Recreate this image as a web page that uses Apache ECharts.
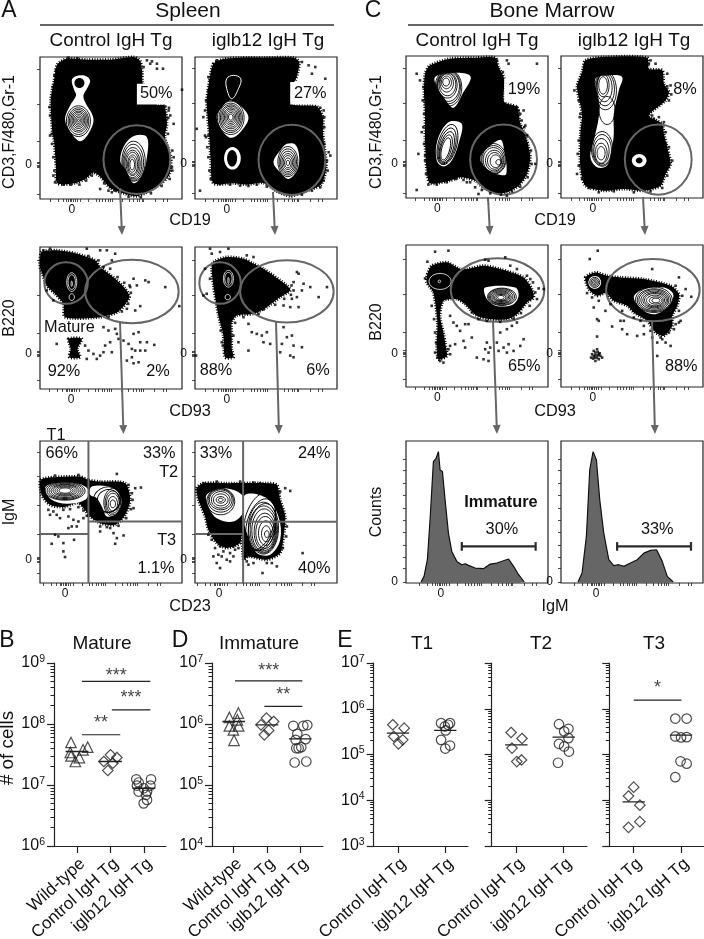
<!DOCTYPE html>
<html>
<head>
<meta charset="utf-8">
<title>Spleen and bone marrow B cell gating</title>
<style>
  html, body { margin: 0; padding: 0; background: #fff; }
  #main { width: 704px; height: 939px; }
</style>
<script src="https://cdn.jsdelivr.net/npm/echarts@6/dist/echarts.min.js"></script>
</head>
<body>
<div id="main"></div>
<script>
// flow plots below use arbitrary channel units (the axes have no scale except the 0 tick)
// each plot: outline polygons, white regions, contour ellipses [cx, cy, rx, ry, tilt], events, gates

// --- A, spleen, CD19 vs CD3
const p1Blob = [[[172,192],[200,175],[260,178],[330,178],[400,170],[420,182],[426,215],[428,250],[470,312],[492,315],[500,370],[494,410],[512,470],[508,520],[484,548],[445,572],[410,587],[370,578],[330,562],[300,528],[280,516],[260,532],[225,548],[172,548],[168,500],[162,420],[157,395],[152,300],[162,240]]]
const p1Holes = [[[215,240],[225,228],[255,226],[270,240],[262,262],[250,285],[255,305],[280,355],[265,400],[240,422],[215,400],[195,358],[210,315],[228,285],[222,268]],
  [[375,430],[405,405],[440,410],[440,470],[425,525],[400,548],[378,510],[360,480]]]
const p1Box = [[[410,250],[518,250],[518,312],[410,312]]]
const p1Spots = [[238,248,15,15]]
const p1Rings = [[235,362,36,46],[235,362,31,40],[235,361,27,34],[235,361,23,29],[235,360,19,24],[235,360,15,19],[235,360,11,14],[235,360,7,9],[235,360,3,4],
  [400,482,35,60],[399,485,31,54],[398,488,27,47],[397,490,23,41],[397,490,19,35],[397,492,15,29],[396,492,11,23],[396,492,7,16]]
const p1Dots = [[455,183],[470,190],[488,205],[545,268],[150,405],[155,400],[178,520],[172,535],[505,330],[510,345],[495,318],[520,370],[520,470],[515,500],[325,570],[300,565],[335,575],[440,180],[430,200],[470,205],[205,172],[232,174],[450,190],
  [148,320],[150,345],[158,260],[163,225],[168,208],[156,430],[160,470],[163,510],[190,552],[212,552],[238,552],[258,540],[275,525],[312,548],[345,570],[385,588],[422,590],[452,578],[484,556],[508,535],[516,510],[516,450],[503,400],[504,352],[506,322],[160,525],[165,545]]
const p1Gates = [[410,477,100,103]]
const p1Text = [[468,280,'50%']]

const p2Blob = [[[640,190],[670,176],[720,172],[790,172],[880,172],[897,185],[892,220],[885,240],[875,250],[875,310],[950,318],[968,350],[968,400],[974,450],[978,500],[962,552],[900,577],[870,587],[830,572],[790,547],[740,552],[700,548],[640,548],[632,480],[628,410],[622,340],[620,300],[628,240]]]
const p2Holes = [[[690,300],[720,315],[745,350],[725,390],[695,412],[670,395],[650,350],[668,318]],
  [[860,430],[885,432],[897,470],[890,510],[865,535],[840,515],[820,485],[840,450]]]
const p2Box = [[[870,245],[985,245],[985,312],[870,312]]]
const p2Whites = [[697,473,25,34]]
const p2Spots = [[696,473,15,25]]
const p2WhiteLines = [[[680,235],[700,225],[722,235],[715,265],[695,295],[680,265]]]
const p2Rings = [[692,352,40,50],[692,352,35,44],[692,352,31,39],[692,351,27,34],[692,351,23,29],[692,350,19,24],[692,350,15,19],[692,350,11,14],[692,350,7,9],
  [863,483,30,45],[863,484,26,39],[863,485,22,33],[863,486,18,27],[863,486,14,21],[863,487,10,15],[863,487,5,8]]
const p2Dots = [[625,230],[630,240],[610,350],[590,385],[615,405],[630,400],[600,570],[650,185],[905,185],[925,195],[935,220],[975,235],[945,200],[945,320],[970,330],[985,455],[990,465],[960,560],[830,552],[815,548],[625,405],[618,410],
  [615,330],[618,300],[625,270],[622,440],[625,470],[628,510],[632,535],[650,180],[660,550],[690,552],[720,555],[745,556],[770,552],[800,558],[905,582],[935,570],[970,540],[982,510],[980,480],[972,430],[972,380],[972,350],[960,322]]
const p2Gates = [[875,478,100,105]]
const p2Text = [[930,280,'27%']]

// --- C, bone marrow, CD19 vs CD3
const p3Blob = [[[240,195],[300,175],[380,172],[435,172],[445,200],[462,235],[462,305],[500,320],[510,370],[520,390],[530,420],[540,470],[530,520],[505,555],[470,575],[440,578],[400,562],[375,540],[330,530],[300,540],[240,548],[230,510],[225,420],[225,340],[222,280],[225,220]]]
const p3Holes = [[[255,230],[300,218],[355,222],[362,235],[340,275],[310,322],[280,290],[258,255]],
  [[295,365],[335,370],[325,430],[305,480],[280,498],[260,480],[262,420]],
  [[395,460],[450,418],[462,450],[468,520],[445,522],[410,505],[390,480]]]
const p3Box = [[[462,235],[575,235],[575,305],[462,305]]]
const p3Rings = [[295,262,40,55],[295,260,36,50],[295,258,33,45],[292,254,29,39],[292,252,25,34],[290,248,20,27],[289,246,15,19],[288,245,10,12],
  [292,432,28,62,15],[291,436,24,55,15],[290,440,20,48,15],[288,443,16,41,15],[287,445,12,34,15],
  [430,475,38,46],[430,477,35,42],[430,478,31,37],[432,480,26,31],[433,481,21,25],[436,482,16,19],[445,485,8,8]]
const p3Dots = [[560,190],[200,220],[210,240],[220,260],[470,180],[440,180],[500,320],[520,330],[525,375],[522,380],[555,490],[525,498],[200,568],[385,580],[470,585],[360,545],[205,460],[225,465],[215,395],[530,430],[480,320],[510,340],[350,545],[375,560],
  [218,300],[222,340],[220,380],[222,430],[225,480],[228,520],[235,552],[260,552],[290,545],[318,535],[340,538],[395,568],[420,578],[452,582],[485,572],[510,558],[532,530],[544,490],[542,450],[530,405],[514,360],[505,330],[475,190],[458,215]]
const p3Gates = [[460,477,100,105]]
const p3Text = [[521,268,'19%']]

const p4Blob = [[[705,180],[760,170],[890,172],[895,205],[935,210],[940,250],[955,275],[945,300],[895,345],[935,370],[940,400],[950,440],[960,490],[945,520],[930,555],[880,570],[820,565],[760,570],[705,555],[690,500],[690,400],[695,340],[680,260],[695,215]]]
const p4Holes = [[[735,235],[775,225],[815,230],[805,270],[790,340],[790,400],[785,440],[770,495],[740,500],[720,470],[730,420],[745,350],[745,300]]]
const p4Box = [[[962,240],[1045,240],[1045,300],[962,300]]]
const p4Whites = [[866,480,22,20]]
const p4Spots = [[866,480,10,9]]
const p4Rings = [[765,270,33,58],[764,266,28,50],[762,262,23,42],[758,255,18,34],[758,255,13,26],[770,330,24,42],[755,445,32,52],[755,448,28,46],[753,452,23,38],[752,458,18,30],[752,458,12,20]]
const p4Dots = [[905,345],[910,355],[925,350],[940,365],[945,430],[955,492],[895,190],[915,190],[925,210],[950,220],[690,340],[680,520],[705,230],[960,255],[950,258],[925,225],
  [672,270],[685,300],[688,350],[685,420],[682,460],[685,495],[695,535],[715,562],[745,575],[790,572],[850,575],[900,572],[935,562],[950,525],[965,480],[955,440],[945,395],[955,300],[962,282],[900,180]]
const p4Gates = [[923,477,100,105]]
const p4Text = [[1003,268,'8%']]

// --- A, spleen, CD93 vs B220
const p5Blob = [[[120,75],[125,50],[170,45],[230,55],[285,75],[300,95],[345,130],[375,160],[388,185],[355,228],[300,245],[195,245],[190,205],[165,175],[140,150],[125,110],[120,95]],
  [[205,310],[245,310],[232,340],[240,365],[208,365],[212,340]]]
const p5WhiteRings = [[215,140,15,28],[215,140,11,22],[215,185,8,10],[215,145,2,8]]
const p5Dots = [[130,45],[150,40],[260,40],[300,45],[320,45],[345,55],[335,75],[330,100],[400,130],[435,135],[445,140],[410,150],[390,155],[495,155],[537,212],[420,212],[380,220],[405,225],[310,275],[325,285],[345,280],[350,295],[355,310],[400,295],[415,290],[420,320],[370,315],[385,325],[395,340],[405,345],[420,345],[435,345],[462,328],[440,320],[395,365],[380,375],[400,383],[415,380],[255,330],[265,345],[280,355],[260,370],[290,370],[300,360],[315,330],[330,320],[335,350],[310,350],[170,325],[110,365],[140,165],[150,150],[160,195],[115,360],
  [392,172],[384,205],[365,228],[325,245],[388,150],[372,142],[352,125],[310,95],[295,75],[265,62]]
const p5Gates = [[198,143,65,62],[395,168,140,95]]
const p5Text = [[208,275,'Mature'],[192,407,'92%'],[473,407,'2%']]

const p6Blob = [[[640,80],[680,65],[730,70],[760,85],[790,100],[860,150],[870,165],[840,185],[800,215],[760,235],[710,240],[695,260],[695,300],[695,340],[700,365],[675,365],[670,300],[655,240],[640,150],[635,100]]]
const p6WhiteRings = [[685,130,15,25],[685,130,11,19],[683,185,8,8],[685,135,2,9]]
const p6Dots = [[630,40],[635,55],[660,50],[685,40],[740,60],[760,65],[615,100],[630,130],[620,175],[610,180],[890,110],[895,115],[880,140],[910,145],[930,155],[980,155],[955,185],[905,165],[890,185],[875,190],[870,215],[895,215],[850,210],[745,265],[755,290],[770,295],[785,300],[800,290],[790,320],[810,325],[850,275],[860,305],[875,300],[845,325],[880,330],[905,335],[840,350],[870,360],[880,365],[745,345],[715,320],[700,300],[665,320],[588,360],
  [874,150],[880,165],[872,178],[852,190],[825,208],[775,235],[790,222],[730,245],[705,262],[662,285],[668,330]]
const p6Gates = [[660,143,62,62],[860,168,140,93]]
const p6Text = [[648,405,'88%'],[953,405,'6%']]

// --- C, bone marrow, CD93 vs B220
const p7Blob = [[[232,115],[245,90],[290,80],[330,100],[350,100],[400,90],[450,100],[520,125],[545,160],[550,185],[530,200],[500,235],[470,250],[420,250],[380,240],[345,205],[320,190],[280,195],[270,240],[280,290],[285,320],[290,360],[265,370],[260,330],[262,260],[250,170],[230,140]]]
const p7Holes = [[[405,155],[495,155],[505,180],[490,205],[445,212],[420,200],[405,180]]]
const p7WhiteRings = [[268,137,4,4],[270,137,33,24]]
const p7Rings = [[455,183,43,26],[454,183,39,24],[453,183,35,21],[452,184,31,19],[452,184,27,16],[452,184,23,13],[452,185,19,11],[452,185,15,9],[452,185,10,6]]
const p7Dots = [[255,48],[295,45],[232,78],[225,128],[405,72],[415,75],[465,65],[480,90],[500,100],[540,130],[565,158],[580,160],[300,240],[310,260],[320,270],[345,265],[330,285],[355,265],[365,305],[340,315],[315,325],[300,330],[345,335],[380,365],[400,370],[415,375],[410,320],[405,340],[420,335],[440,320],[450,290],[470,280],[485,270],[500,260],[520,310],[510,330],[475,325],[490,345],[470,350],[460,335],[445,345],[415,350],[280,380],[270,375],
  [555,170],[548,140],[530,120],[560,190],[538,210],[512,232],[490,248],[450,258],[410,255],[385,250],[365,230],[272,300],[258,320],[295,340],[300,355],[255,350],[262,365],[275,310],[255,290],[252,250],[245,210]]
const p7Gates = [[442,163,140,95]]
const p7Text = [[522,392,'65%']]

const p8Blob = [[[705,125],[735,110],[770,120],[810,125],[880,130],[960,150],[985,175],[980,210],[965,240],[965,270],[940,300],[915,290],[890,255],[850,230],[830,210],[790,195],[765,172],[740,180],[715,160]]]
const p8Holes = [[[850,185],[880,160],[940,155],[968,175],[955,210],[915,235],[880,225]]]
const p8Whites = [[733,140,19,19]]
const p8Rings = [[910,192,55,38],[910,193,50,34],[910,193,45,31],[911,193,40,27],[912,193,35,23],[912,193,30,20],[913,194,25,16],[915,194,19,11],[916,194,12,7],[733,140,15,15],[733,140,11,11],[733,140,7,7],[733,140,3,3]]
const p8Dots = [[722,365],[730,345],[735,350],[745,355],[740,365],[750,360],[735,375],[725,355],[740,340],[755,365],[745,370],[730,360],[735,358],[742,348],[728,368],[748,352],[733,365],[742,358],[742,45],[718,70],[905,100],[985,125],[1005,160],[1022,183],[730,215],[740,250],[745,255],[765,225],[785,272],[810,255],[815,280],[830,295],[860,300],[880,295],[905,305],[920,320],[935,310],[945,320],[960,330],[920,360],[985,260],[970,280],[740,302],[990,255],[900,285],
  [710,172],[725,185],[745,195],[780,205],[815,225],[820,255],[850,245],[870,255],[880,270],[930,305],[955,290],[975,265],[985,225],[995,180],[975,150]]
const p8Gates = [[907,163,140,93]]
const p8Text = [[992,392,'88%']]

// --- A, spleen, CD23 vs IgM
const p9Blob = [[[122,180],[160,172],[240,170],[265,180],[300,185],[375,190],[390,240],[375,285],[345,315],[300,310],[270,290],[235,250],[190,262],[150,255],[125,225]]]
const p9Holes = [[[135,205],[160,190],[230,190],[265,210],[255,240],[200,252],[155,240]],
  [[275,200],[340,205],[365,240],[350,280],[320,290],[305,260],[290,235],[270,225]]]
const p9Rings = [[195,213,60,28],[195,213,54,26],[195,213,48,23],[195,213,42,20],[195,212,36,17],[195,212,30,14],[195,212,24,11],[195,212,18,8],[320,240,42,38,-30],[325,243,34,34,-30],[338,248,27,42],[338,249,23,36],[338,250,19,30],[338,252,14,22],[338,252,8,12]]
const p9Dots = [[145,270],[160,275],[180,295],[205,290],[220,300],[235,305],[205,325],[215,320],[230,320],[250,295],[165,345],[175,350],[155,372],[190,370],[190,395],[195,412],[222,360],[300,335],[340,340],[350,355],[345,372],[370,347],[330,325],[350,162],[422,203],[405,205],[395,220],[400,265],[150,285],[170,285],[235,165],[165,167],
  [190,270],[210,268],[235,262],[250,272],[260,288],[300,320],[320,322],[355,318],[378,295],[392,268],[397,240],[385,195]]
const p9Lines = [[[265,63],[265,490]],[[265,305],[545,305]],[[120,343],[265,343]]]
const p9Text = [[185,102,'66%'],[477,102,'33%'],[505,157,'T2'],[499,362,'T3'],[467,445,'1.1%']]

const p10Blob = [[[590,205],[610,190],[680,190],[800,190],[830,195],[840,240],[855,290],[850,350],[840,400],[800,420],[745,410],[730,420],[725,340],[720,370],[680,385],[650,370],[625,330],[615,290],[595,240]]]
const p10Holes = [[[620,225],[670,205],[725,225],[730,275],[700,305],[650,295],[625,260]],
  [[735,225],[800,235],[835,290],[840,360],[810,405],[770,400],[740,340],[730,290]]]
const p10Rings = [[662,245,42,40],[662,242,38,35],[662,240,34,30],[662,240,28,25],[662,240,22,18],[662,240,14,10],[662,240,7,5],[778,305,44,88,15],[782,315,42,80,15],[786,322,40,72,12],[790,325,45,78],[791,329,41,71],[792,332,37,65],[794,336,32,56],[795,338,28,48],[797,340,22,37],[798,342,14,24],[800,343,7,10]]
const p10Dots = [[610,190],[640,410],[655,405],[665,410],[650,430],[660,445],[680,420],[690,425],[700,410],[745,435],[740,425],[760,430],[787,460],[907,400],[830,440],[815,430],[800,430],[855,205],[870,213],[840,215],[760,188],[670,395],[690,400],[705,390],[645,385],[660,380],
  [635,360],[625,345],[715,385],[700,380],[860,320],[858,350],[848,385],[780,190],[720,185],[650,185],[735,395],[735,410]]
const p10Lines = [[[729,63],[729,490]],[[729,306],[1010,306]],[[585,343],[729,343]]]
const p10Text = [[648,102,'33%'],[942,102,'24%'],[942,445,'40%']]

// --- C, bone marrow, IgM histograms
const p11Hist = [[213,487],[222,470],[232,420],[240,300],[250,125],[258,115],[265,95],[270,150],[277,155],[285,240],[295,340],[305,395],[320,425],[335,435],[345,432],[355,437],[375,445],[400,447],[420,433],[440,430],[475,418],[490,440],[505,465],[522,487]]
const p11Bars = [[[335,380],[556,380]],[[335,367],[335,393]],[[556,367],[556,393]]]
const p11Text = [[455,328,'30%']]
const p11Bold = [[452,248,'Immature']]

const p12Hist = [[683,487],[695,460],[708,350],[718,150],[728,95],[738,120],[748,240],[760,340],[775,420],[790,438],[805,435],[820,440],[840,430],[860,420],[880,400],[900,392],[918,390],[935,425],[950,470],[968,487]]
const p12Bars = [[[800,380],[1021,380]],[[800,367],[800,393]],[[1021,367],[1021,393]]]
const p12Text = [[920,328,'33%']]

// tick offsets from the 0 tick, same biexponential scale on all the plots
const xTickOffsets = [-65,-40,-25,-15,-10,-5,0,5,10,15,25,50,72,82,92,100,108,115,120,150,172,185,195,203,210,215,250,275,285]
const yTicksRow1 = [-285,-183,-70,-8,-4,0,4,8,87]
const yTicksRow2 = [-280,-177,-63,-8,-4,0,4,8,78]
const yTicksRow3 = [-322,-250,-165,-78,-8,-4,0,4,8,40]
const yTicksHist = [-370,-335,-297,-260,-222,-185,-150,-112,-75,-40,0]

// --- B, D, E dot plots, [x position, cells], median lines, significance bars
const groups3 = ['Wild-type', 'Control IgH Tg', 'iglb12 IgH Tg']
const groups2 = ['Control IgH Tg', 'iglb12 IgH Tg']

const matureWT = [[0.82,4.98e7],[0.80,3.41e7],[1.32,4.17e7],[1.18,3.77e7],[1.07,2.82e7],[0.82,3.0e7],[0.95,2.43e7]]
const matureCtrl = [[2.0,3.12e7],[2.19,2.82e7],[1.92,1.73e7],[2.07,2.28e7],[1.8,2.43e7]]
const matureIglb = [[2.77,1.24e7],[3.21,1.24e7],[2.84,1.10e7],[2.79,9.8e6],[3.19,9.8e6],[2.99,8.85e6],[2.84,7.8e6],[3.09,7.8e6],[3.06,6.9e6],[3.09,5.7e6],[2.99,5.0e6]]
const matureMedians = [3.54e7, 2.43e7, 8.85e6]
const matureSig = [[1.15,3.19,5e8,'***',6.2e8],[2.04,3.19,1.71e8,'***',2.7e8],[1.15,2.29,6.66e7,'**',1.03e8]]

const immatureWT = [[1.14,1.51e6],[0.87,1.28e6],[1.11,1.17e6],[0.87,9.3e5],[1.15,9.3e5],[0.99,8.0e5],[1.01,5.4e5]]
const immatureCtrl = [[1.985,1.25e6],[2.2,1.10e6],[1.82,9.7e5],[2.05,7.84e5],[1.92,6.65e5]]
const immatureIglb = [[2.79,9.35e5],[3.09,9.35e5],[3.21,9.6e5],[2.91,6.9e5],[2.86,5.5e5],[3.16,5.65e5],[2.88,4.0e5],[3.03,4.17e5],[2.95,4.0e5],[2.83,2.34e5],[3.18,2.43e5]]
const immatureMedians = [1.10e6, 9.7e5, 5.7e5]
const immatureSig = [[1.04,3.06,5.1e6,'***',7.4e6],[1.92,3.06,1.94e6,'**',3.0e6]]

const t1Ctrl = [[0.89,4.47e5],[1.13,3.77e5],[0.91,2.48e5],[1.10,2.09e5],[1.01,1.71e5]]
const t1Iglb = [[1.91,4.85e5],[2.10,4.85e5],[1.99,4.1e5],[2.06,4.47e5],[2.01,3.36e5],[1.91,2.09e5],[2.10,1.57e5],[2.0,1.35e5]]
const t1Medians = [2.93e5, 3.36e5]

const t2Ctrl = [[0.89,3.03e5],[1.12,2.24e5],[0.91,1.38e5],[1.11,7.6e4],[1.01,7.0e4]]
const t2Iglb = [[1.90,4.6e5],[2.10,3.65e5],[2.01,3.2e5],[2.10,2.28e5],[1.90,1.71e5],[2.01,1.5e5],[2.11,1.16e5],[1.88,6.6e4]]
const t2Medians = [1.63e5, 2.4e5]

const t3Ctrl = [[1.0,1.93e4],[0.89,1.24e4],[1.13,7.8e3],[1.13,3.4e3],[0.89,2.56e3]]
const t3Iglb = [[1.88,6.1e5],[2.12,6.1e5],[1.88,2.48e5],[2.0,2.36e5],[2.12,2.4e5],[1.99,7.1e4],[2.12,6.3e4],[1.88,3.2e4]]
const t3Medians = [9.2e3, 2.65e5]
const t3Sig = [[1.0,2.01,1.55e6,'*',2.8e6]]

// connector arrows between the rows
const arrows = [[120,188,122,235],[273,192,275,235],[488,197,490,235],[643,197,645,235],
  [120,322,123.5,434],[276,321,279,434],[493,321,497,434],[652,320,655,434]]

const FONT = '"Liberation Sans", Arial, sans-serif'
const INK = '#111111'
const GATE = '#666666'

const flowPlots = [
  {left:40,top:57,x:[120,545],y:[170,595],x0:215,y0:493,yTicks:yTicksRow1,blob:p1Blob,holes:p1Holes,box:p1Box,spots:p1Spots,rings:p1Rings,dots:p1Dots,gates:p1Gates,text:p1Text},
  {left:195,top:57,x:[585,1010],y:[170,595],x0:680,y0:490,yTicks:yTicksRow1,blob:p2Blob,holes:p2Holes,box:p2Box,whites:p2Whites,spots:p2Spots,whiteLines:p2WhiteLines,rings:p2Rings,dots:p2Dots,gates:p2Gates,text:p2Text},
  {left:406,top:56,x:[168,593],y:[167,592],x0:262,y0:490,yTicks:yTicksRow1,blob:p3Blob,holes:p3Holes,box:p3Box,rings:p3Rings,dots:p3Dots,gates:p3Gates,text:p3Text},
  {left:561,top:56,x:[632,1057],y:[167,592],x0:727,y0:490,yTicks:yTicksRow1,blob:p4Blob,holes:p4Holes,box:p4Box,whites:p4Whites,spots:p4Spots,rings:p4Rings,dots:p4Dots,gates:p4Gates,text:p4Text},
  {left:40,top:247,x:[120,545],y:[35,460],x0:213,y0:355,yTicks:yTicksRow2,blob:p5Blob,whiteRings:p5WhiteRings,dots:p5Dots,gates:p5Gates,text:p5Text},
  {left:195,top:247,x:[585,1010],y:[35,460],x0:680,y0:355,yTicks:yTicksRow2,blob:p6Blob,whiteRings:p6WhiteRings,dots:p6Dots,gates:p6Gates,text:p6Text},
  {left:406,top:245,x:[168,593],y:[28,453],x0:262,y0:352,yTicks:yTicksRow2,blob:p7Blob,holes:p7Holes,whiteRings:p7WhiteRings,rings:p7Rings,dots:p7Dots,gates:p7Gates,text:p7Text},
  {left:561,top:245,x:[632,1057],y:[28,453],x0:727,y0:352,yTicks:yTicksRow2,blob:p8Blob,holes:p8Holes,whites:p8Whites,rings:p8Rings,dots:p8Dots,gates:p8Gates,text:p8Text},
  {left:40,top:441,x:[120,545],y:[63,490],x0:195,y0:420,yTicks:yTicksRow3,blob:p9Blob,holes:p9Holes,rings:p9Rings,dots:p9Dots,lines:p9Lines,text:p9Text},
  {left:195,top:441,x:[585,1010],y:[63,490],x0:657,y0:420,yTicks:yTicksRow3,blob:p10Blob,holes:p10Holes,rings:p10Rings,dots:p10Dots,lines:p10Lines,text:p10Text},
  {left:406,top:441,x:[168,593],y:[63,490],x0:272,y0:487,yTicks:yTicksHist,hist:p11Hist,bars:p11Bars,text:p11Text,bold:p11Bold},
  {left:561,top:441,x:[632,1057],y:[63,490],x0:737,y0:487,yTicks:yTicksHist,hist:p12Hist,bars:p12Bars,text:p12Text}
]

const dotPlots = [
  {left:54,right:166,ticks:[77,110.5,144],exp:[6,9],labels:true,cats:groups3,half:0.34,sets:[[matureWT,'triangle'],[matureCtrl,'diamond'],[matureIglb,'circle']],medians:matureMedians,sig:matureSig},
  {left:212,right:323,ticks:[233.7,267,300.7],exp:[4,7],labels:true,cats:groups3,half:0.34,sets:[[immatureWT,'triangle'],[immatureCtrl,'diamond'],[immatureIglb,'circle']],medians:immatureMedians,sig:immatureSig},
  {left:373.7,right:468,ticks:[398,445.3],exp:[3,7],labels:true,cats:groups2,half:0.236,sets:[[t1Ctrl,'diamond'],[t1Iglb,'circle']],medians:t1Medians,sig:[]},
  {left:491.7,right:587,ticks:[516.3,563.7],exp:[3,7],labels:false,cats:groups2,half:0.236,sets:[[t2Ctrl,'diamond'],[t2Iglb,'circle']],medians:t2Medians,sig:[]},
  {left:609.3,right:704,ticks:[633.7,681],exp:[3,7],labels:false,cats:groups2,half:0.236,sets:[[t3Ctrl,'diamond'],[t3Iglb,'circle']],medians:t3Medians,sig:t3Sig}
]

const myChart = echarts.init(document.getElementById('main'), null, {width: 704, height: 939})

const grid = [], xAxis = [], yAxis = [], series = []

function polygon(api, pts, style, smooth) {
  return {type: 'polygon', shape: {points: pts.map(p => api.coord(p)), smooth: smooth || 0}, style}
}
function polyline(api, pts, style) {
  return {type: 'polyline', shape: {points: pts.map(p => api.coord(p))}, style}
}
function ellipse(api, e, style) {
  const c = api.coord([e[0], e[1]])
  const s = api.size([e[2], e[3]])
  return {
    type: 'ellipse',
    shape: {cx: c[0], cy: c[1], rx: s[0], ry: s[1]},
    rotation: e[4] ? -e[4] * Math.PI / 180 : 0,
    originX: c[0], originY: c[1],
    style
  }
}
function label(api, t, size, weight) {
  const c = api.coord([t[0], t[1]])
  return {type: 'text', style: {text: t[2], x: c[0], y: c[1], align: 'center', verticalAlign: 'middle', fill: INK, font: `${weight} ${size}px ${FONT}`}}
}

flowPlots.forEach((p, i) => {
  grid.push({left: p.left, top: p.top, width: 142, height: 142, outerBoundsMode: 'none', show: true, backgroundColor: '#fff', borderColor: '#222', borderWidth: 1.2})
  xAxis.push({
    type: 'value', gridIndex: i, min: p.x[0], max: p.x[1], splitLine: {show: false}, axisLine: {show: false},
    axisTick: {show: true, length: 3, lineStyle: {color: '#222', width: 0.8}, customValues: xTickOffsets.map(d => p.x0 + d)},
    axisLabel: {show: true, customValues: [p.x0], formatter: () => '0', margin: 5, fontSize: 12, fontFamily: FONT, color: INK}
  })
  yAxis.push({
    type: 'value', gridIndex: i, inverse: true, min: p.y[0], max: p.y[1], splitLine: {show: false}, axisLine: {show: false},
    axisTick: {show: true, length: 3, lineStyle: {color: '#222', width: 0.8}, customValues: p.yTicks.map(d => p.y0 + d)},
    axisLabel: {show: true, customValues: [p.y0], formatter: () => '0', margin: 8, fontSize: 12, fontFamily: FONT, color: INK}
  })
  const base = {xAxisIndex: i, yAxisIndex: i, silent: true, animation: false}
  if (p.hist) {
    series.push({...base, type: 'line', data: p.hist, symbol: 'none', lineStyle: {color: '#111', width: 1.2},
      areaStyle: {color: '#666666', origin: p.y[1], opacity: 1}})
  } else {
    // blobs, white contour regions and contour lines
    series.push({...base, type: 'custom', data: [[p.x[0], p.y[0]]],
      renderItem: (params, api) => ({type: 'group', children: [
        ...p.blob.map(b => polygon(api, b, {fill: '#000', stroke: '#000', lineWidth: 3, lineDash: [1, 1.6]}, 0.25)),
        ...(p.holes || []).map(h => polygon(api, h, {fill: '#fff'}, 0.35)),
        ...(p.box || []).map(h => polygon(api, h, {fill: '#fff'})),
        ...(p.whites || []).map(e => ellipse(api, e, {fill: '#fff'})),
        ...(p.spots || []).map(e => ellipse(api, e, {fill: '#000'})),
        ...(p.whiteLines || []).map(l => polygon(api, l, {fill: 'none', stroke: '#fff', lineWidth: 1}, 0.4)),
        ...(p.whiteRings || []).map(e => ellipse(api, e, {fill: 'none', stroke: '#fff', lineWidth: 0.8})),
        ...(p.rings || []).map(e => ellipse(api, e, {fill: 'none', stroke: '#000', lineWidth: 0.9}))
      ]})
    })
    series.push({...base, type: 'scatter', data: p.dots, symbol: 'rect', symbolSize: 2.6, itemStyle: {color: '#000'}})
  }
  // gates and text sit above the events
  series.push({...base, type: 'custom', data: [[p.x[0], p.y[0]]],
    renderItem: (params, api) => ({type: 'group', children: [
      ...(p.gates || []).map(e => ellipse(api, e, {fill: 'none', stroke: GATE, lineWidth: 2})),
      ...(p.lines || []).map(l => polyline(api, l, {fill: 'none', stroke: GATE, lineWidth: 2})),
      ...(p.bars || []).map(l => polyline(api, l, {fill: 'none', stroke: '#2a2a2a', lineWidth: 2.2})),
      ...(p.text || []).map(t => label(api, t, 16.3, 'normal')),
      ...(p.bold || []).map(t => label(api, t, 16.3, 'bold'))
    ]})
  })
})

function superscript(value) {
  const e = Math.round(Math.log10(value))
  return `{b|10}{s|${e}}`
}

dotPlots.forEach((d, k) => {
  const g = grid.length
  const xi = xAxis.length
  const yi = yAxis.length
  const step = d.ticks[1] - d.ticks[0]
  const decades = [], minors = []
  for (let e = d.exp[0]; e <= d.exp[1]; e++) {
    decades.push(Math.pow(10, e))
    if (e < d.exp[1]) [2,3,4,5,6,7,8,9].forEach(m => minors.push(m * Math.pow(10, e)))
  }
  const positions = d.cats.map((c, n) => n + 1)
  // labels run off the page bottom in the original, keep the grid where it is
  grid.push({left: d.left, top: 663, width: d.right - d.left, height: 183, outerBoundsMode: 'none'})
  xAxis.push({
    type: 'value', gridIndex: g,
    min: 1 - (d.ticks[0] - d.left) / step,
    max: 1 + (d.right - d.ticks[0]) / step,
    splitLine: {show: false},
    axisLine: {show: true, onZero: false, lineStyle: {color: '#222', width: 1.2}},
    axisTick: {show: true, length: 7, lineStyle: {color: '#222', width: 1.2}, customValues: positions},
    axisLabel: {show: true, customValues: positions, formatter: v => d.cats[Math.round(v) - 1], rotate: 42, verticalAlign: 'top', margin: 9, fontSize: 17, fontFamily: FONT, color: INK, hideOverlap: false}
  })
  const yRange = {min: decades[0], max: decades[decades.length - 1]}
  yAxis.push({
    type: 'log', logBase: 10, gridIndex: g, position: 'left', ...yRange, splitLine: {show: false},
    axisLine: {show: true, onZero: false, lineStyle: {color: '#222', width: 1.2}},
    axisTick: {show: true, length: 7, lineStyle: {color: '#222', width: 1.2}, customValues: decades},
    axisLabel: {show: d.labels, customValues: decades, formatter: superscript, margin: 9, rich: {
      b: {fontSize: 16, fontFamily: FONT, color: INK},
      s: {fontSize: 10.5, fontFamily: FONT, color: INK, padding: [0, 0, 8, 0]}
    }}
  })
  yAxis.push({
    type: 'log', logBase: 10, gridIndex: g, position: 'left', ...yRange, splitLine: {show: false}, axisLine: {show: false},
    axisTick: {show: true, length: 3.5, lineStyle: {color: '#222', width: 1}, customValues: minors},
    axisLabel: {show: false}
  })
  const base = {xAxisIndex: xi, yAxisIndex: yi, silent: true, animation: false}
  d.sets.forEach(set => {
    series.push({...base, type: 'scatter', data: set[0], symbol: set[1], symbolSize: set[1] === 'circle' ? 9.5 : 10.5,
      itemStyle: {color: 'rgba(255,255,255,0)', borderColor: '#222', borderWidth: 1.2}})
  })
  d.medians.forEach((m, n) => {
    series.push({...base, type: 'line', data: [[n + 1 - d.half, m], [n + 1 + d.half, m]], symbol: 'none', lineStyle: {color: '#222', width: 1.3}})
  })
  d.sig.forEach(s => {
    series.push({...base, type: 'line', data: [[s[0], s[2]], [s[1], s[2]]], symbol: 'none', lineStyle: {color: '#222', width: 1.2}})
    series.push({...base, type: 'scatter', data: [[(s[0] + s[1]) / 2, s[4]]], symbolSize: 0,
      label: {show: true, position: 'inside', formatter: s[3], fontSize: 18, fontFamily: FONT, color: INK}})
  })
})

function pageText(text, x, y, size, rotated) {
  return {type: 'text', z: 100, x, y, rotation: rotated ? Math.PI / 2 : 0, silent: true,
    style: {text, align: 'center', verticalAlign: 'middle', fill: INK, font: `${size}px ${FONT}`}}
}
function pageRule(x1, x2, y) {
  return {type: 'line', z: 100, silent: true, shape: {x1, y1: y, x2, y2: y}, style: {stroke: GATE, lineWidth: 2}}
}

const arrowGraphics = []
arrows.forEach(a => {
  const dx = a[2] - a[0], dy = a[3] - a[1], len = Math.sqrt(dx * dx + dy * dy)
  const ux = dx / len, uy = dy / len
  const bx = a[2] - ux * 9, by = a[3] - uy * 9
  arrowGraphics.push({type: 'line', z: 100, silent: true, shape: {x1: a[0], y1: a[1], x2: bx, y2: by}, style: {stroke: GATE, lineWidth: 2}})
  arrowGraphics.push({type: 'polygon', z: 100, silent: true,
    shape: {points: [[a[2], a[3]], [bx - uy * 4, by + ux * 4], [bx + uy * 4, by - ux * 4]]}, style: {fill: GATE}})
})

const pageGraphics = [
  pageText('A', 9, 11, 23), pageText('C', 373, 11, 23), pageText('B', 7, 641, 23), pageText('D', 180, 641, 23), pageText('E', 345, 641, 23),
  pageText('Spleen', 188, 11, 21), pageText('Bone Marrow', 552, 11, 21),
  pageRule(40, 334, 25), pageRule(408, 703, 25),
  pageText('Control IgH Tg', 111, 41, 18.9), pageText('iglb12 IgH Tg', 268, 41, 18.9),
  pageText('Control IgH Tg', 477, 41, 18.9), pageText('iglb12 IgH Tg', 634, 41, 18.9),
  pageText('CD3,F/480,Gr-1', 10, 132, 16, true), pageText('CD3,F/480,Gr-1', 377, 132, 16, true),
  pageText('CD19', 190, 221, 16.3), pageText('CD19', 555, 221, 16.3),
  pageText('B220', 10, 318, 16, true), pageText('B220', 377, 322, 16, true),
  pageText('CD93', 190, 412, 16.3), pageText('CD93', 555, 412, 16.3),
  pageText('IgM', 10, 512, 16, true), pageText('Counts', 377, 512, 16, true),
  pageText('T1', 56, 436, 16.3),
  pageText('CD23', 190, 607, 16.3), pageText('IgM', 555, 607, 16.3),
  pageText('Mature', 102, 644, 19), pageText('Immature', 259, 644, 19),
  pageText('T1', 422, 644, 19), pageText('T2', 541, 644, 19), pageText('T3', 654, 644, 19),
  pageText('# of cells', 8, 748, 18.8, true),
  ...arrowGraphics
]

const option = {
  animation: false,
  backgroundColor: '#fff',
  textStyle: {fontFamily: FONT},
  grid, xAxis, yAxis, series,
  graphic: pageGraphics
}
myChart.setOption(option)
</script>
</body>
</html>
